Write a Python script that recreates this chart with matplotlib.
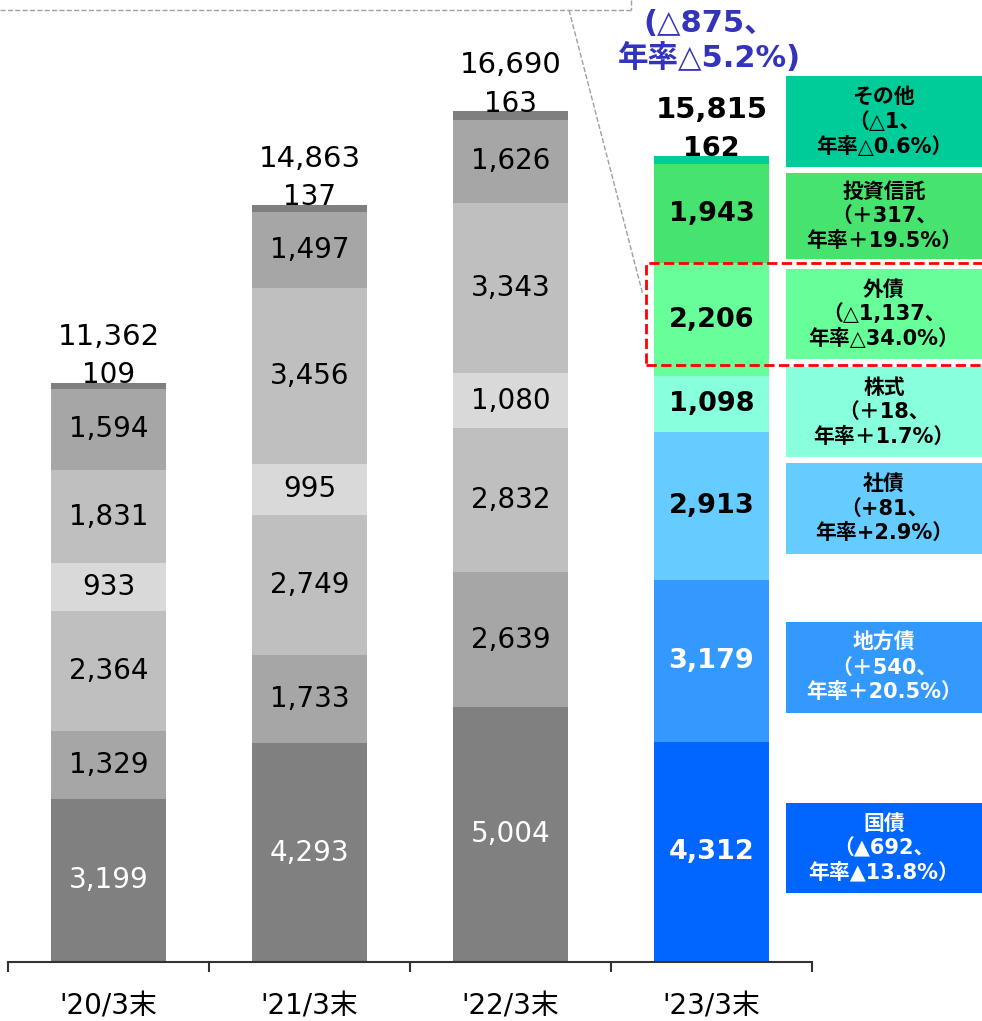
import matplotlib.pyplot as plt
from matplotlib.patches import Rectangle
from matplotlib.lines import Line2D

plt.rcParams['font.family'] = ['DejaVu Sans', 'Noto Sans CJK JP']

# data (億円)
periods = ["'20/3末", "'21/3末", "'22/3末", "'23/3末"]
items = ["国債", "地方債", "社債", "株式", "外債", "投資信託", "その他"]
kokusai = [3199, 4293, 5004, 4312]
chihousai = [1329, 1733, 2639, 3179]
shasai = [2364, 2749, 2832, 2913]
kabushiki = [933, 995, 1080, 1098]
gaisai = [1831, 3456, 3343, 2206]
toushin = [1594, 1497, 1626, 1943]
sonota = [109, 137, 163, 162]
totals = [11362, 14863, 16690, 15815]

change_amt = ["（▲692、", "（＋540、", "（+81、", "（＋18、", "（△1,137、", "（＋317、", "（△1、"]
change_rate = ["年率▲13.8%）", "年率＋20.5%）", "年率+2.9%）", "年率＋1.7%）",
               "年率△34.0%）", "年率＋19.5%）", "年率△0.6%）"]
total_change = ["(△875、", "年率△5.2%)"]

series = [kokusai, chihousai, shasai, kabushiki, gaisai, toushin, sonota]
gray_colors = ['#808080', '#a6a6a6', '#bfbfbf', '#d9d9d9', '#bfbfbf', '#a6a6a6', '#7f7f7f']
new_colors = ['#0066ff', '#3399ff', '#66ccff', '#88ffdd', '#66ff99', '#46e46e', '#00cc99']
new_text = ['white', 'white', 'black', 'black', 'black', 'black', 'black']

W, H = 982, 1021
fig = plt.figure(figsize=(W / 100, H / 100), dpi=100)
ax = fig.add_axes([8 / W, 59 / H, 804 / W, 962 / H])

x = range(len(periods))
bottoms = [0] * len(periods)
for i, vals in enumerate(series):
    cols = [gray_colors[i]] * 3 + [new_colors[i]]
    ax.bar(x, vals, bottom=bottoms, width=0.572, color=cols, linewidth=0)
    if i < len(series) - 1:
        for j, v in enumerate(vals):
            yc = bottoms[j] + v / 2
            if j < 3:
                c = 'white' if i == 0 else 'black'
                ax.text(j, yc, f"{v:,}", ha='center', va='center', fontsize=20, color=c)
            else:
                ax.text(j, yc, f"{v:,}", ha='center', va='center', fontsize=19.5,
                        color=new_text[i], fontweight='bold')
    bottoms = [b + v for b, v in zip(bottoms, vals)]

for j, top in enumerate(bottoms):
    w = 'bold' if j == 3 else 'normal'
    ax.annotate(f"{sonota[j]:,}", xy=(j, top), xytext=(0, -4.5), textcoords='offset points',
                ha='center', va='bottom', fontsize=20 if j < 3 else 19.5, fontweight=w)
    ax.annotate(f"{totals[j]:,}", xy=(j, top), xytext=(0, 46 * 0.72), textcoords='offset points',
                ha='center', va='center', fontsize=21, fontweight=w)

ax.set_xlim(-0.5, 3.5)
ax.set_ylim(0, 18874)
for s in ['top', 'left', 'right']:
    ax.spines[s].set_visible(False)
ax.spines['bottom'].set_linewidth(1.5)
ax.spines['bottom'].set_color('#333333')
ax.set_yticks([])
ax.set_xticks(list(x))
ax.set_xticklabels(periods, fontsize=20)
ax.set_xticks([-0.5, 0.5, 1.5, 2.5, 3.5], minor=True)
ax.tick_params(axis='x', which='major', length=0, pad=22)
ax.tick_params(axis='x', which='minor', length=7.5, width=1.5, color='#333333', direction='out')


def fx(px):
    return px / W


def fy(py):
    return 1 - py / H


# legend boxes on the right
box_tops = [803, 622, 463, 367, 269, 173, 76]
box_bots = [893, 713, 554, 457, 359, 259, 167]
for i, name in enumerate(items):
    t, b = box_tops[i], box_bots[i]
    fig.add_artist(Rectangle((fx(786), fy(b)), fx(990) - fx(786), (b - t) / H,
                             transform=fig.transFigure, color=new_colors[i], lw=0))
    yc = (t + b) / 2
    for k, line in enumerate([name, change_amt[i], change_rate[i]]):
        fig.text(fx(884), fy(yc + (k - 1) * 24.5), line, ha='center', va='center',
                 fontsize=15, fontweight='bold', color=new_text[i])

# red dashed highlight around 外債
fig.add_artist(Rectangle((fx(646), fy(365)), fx(1000) - fx(646), (365 - 263) / H,
                         transform=fig.transFigure, fill=False, ec='#ff0000', ls='--', lw=2))

# grey dashed callout
dash = dict(color='#a0a0a0', lw=1, ls='--', transform=fig.transFigure)
fig.add_artist(Line2D([fx(0), fx(631)], [fy(10), fy(10)], **dash))
fig.add_artist(Line2D([fx(631), fx(631)], [fy(0), fy(10)], **dash))
fig.add_artist(Line2D([fx(569), fx(643)], [fy(10), fy(295)], **dash))

# total change
fig.text(fx(709), fy(23), total_change[0], ha='center', va='center', fontsize=22,
         fontweight='bold', color='#3333bb')
fig.text(fx(709), fy(58), total_change[1], ha='center', va='center', fontsize=22,
         fontweight='bold', color='#3333bb')

fig.savefig('out.png', dpi=100)
